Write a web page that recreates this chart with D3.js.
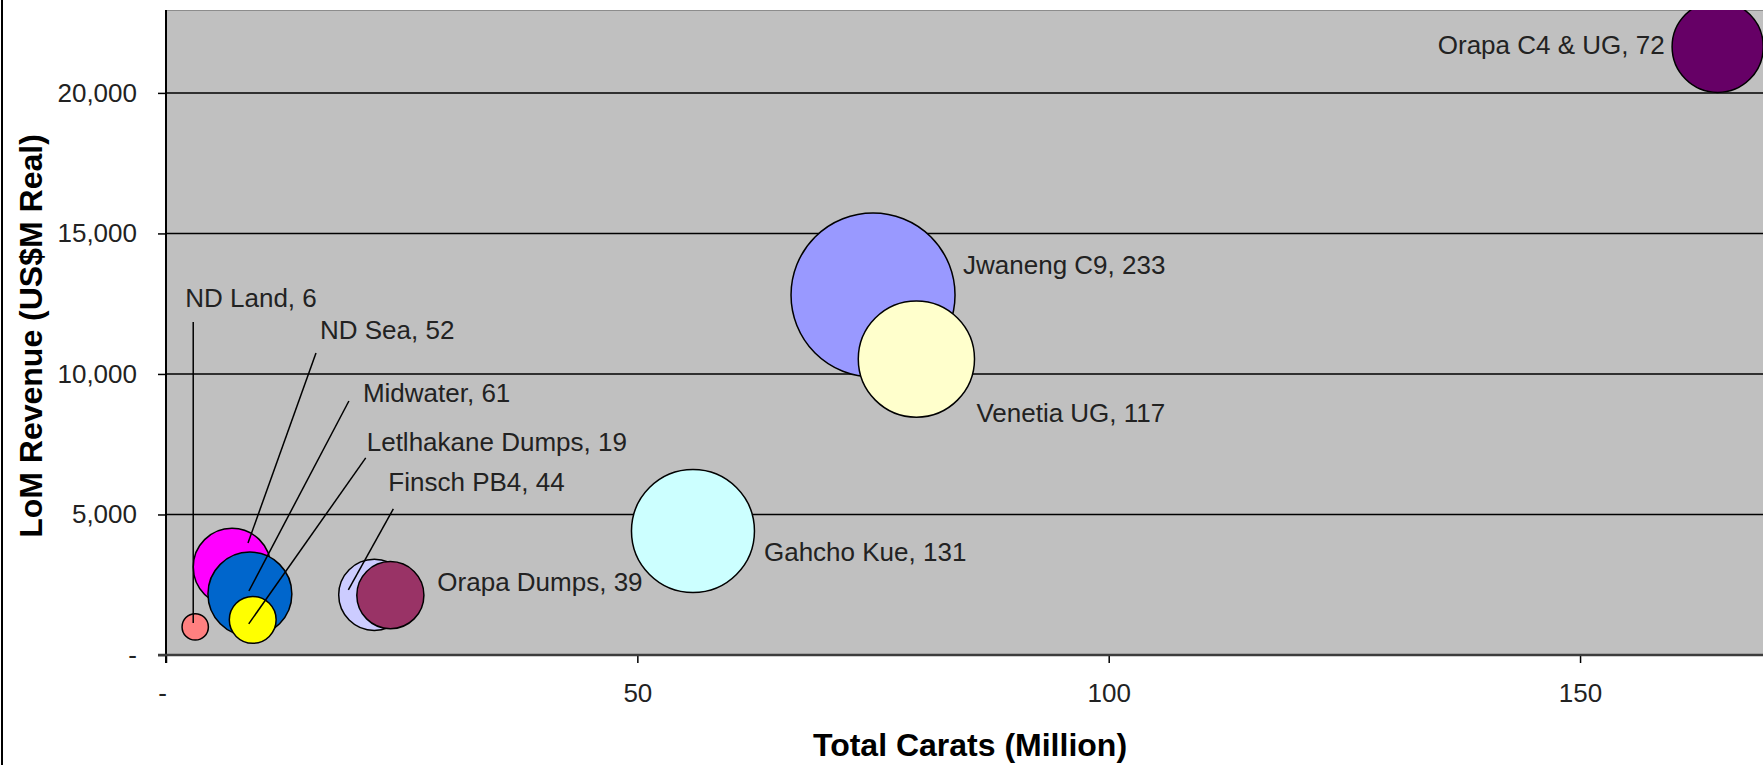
<!DOCTYPE html>
<html>
<head>
<meta charset="utf-8">
<script src="https://cdn.jsdelivr.net/npm/d3@7"></script>
<style>
  body { margin: 0; background: #fff; }
  svg { display: block; font-family: "Liberation Sans", Arial, sans-serif; }
</style>
</head>
<body>
<svg id="chart" width="1763" height="765"></svg>
<script>
////////////////////////////////////////////////////////////////
// Data

let mines   = ["ND Land", "ND Sea", "Midwater", "Letlhakane Dumps", "Finsch PB4",
               "Orapa Dumps", "Gahcho Kue", "Jwaneng C9", "Venetia UG", "Orapa C4 & UG"]
let carats  = [3.1, 7.0, 8.9, 9.2, 22.1, 23.8, 55.9, 75.0, 79.6, 164.6]
let revenue = [1000, 3130, 2170, 1250, 2140, 2130, 4410, 12810, 10530, 21640]
let sizes   = [6, 52, 61, 19, 44, 39, 131, 233, 117, 72]
let colors  = ["#FF8080", "#FF00FF", "#0066CC", "#FFFF00", "#CCCCFF",
               "#993366", "#CCFFFF", "#9999FF", "#FFFFCC", "#660066"]

let yTicks = [0, 5000, 10000, 15000, 20000]
let xTicks = [0, 50, 100, 150]

// label placement (px offset from bubble centre), leader line where Excel drew one
let labelLayout = [
  {dx: -10, dy: -329, anchor: "start", lead: [[8, 24], [-2, -4]]},
  {dx: 88,  dy: -237, anchor: "start", lead: [[-4, 23], [16, -24]]},
  {dx: 113, dy: -201, anchor: "start", lead: [[-14, 8], [-1, -3]]},
  {dx: 114, dy: -178, anchor: "start", lead: [[-1, 16], [-4, 4]]},
  {dx: 14,  dy: -113, anchor: "start", lead: [[5, 27], [-26, -5]]},
  {dx: 47,  dy: -13,  anchor: "start"},
  {dx: 71,  dy: 21,   anchor: "start"},
  {dx: 90,  dy: -30,  anchor: "start"},
  {dx: 60,  dy: 54,   anchor: "start"},
  {dx: -53, dy: -2,   anchor: "end"}
]

let data = mines.map(function(m, i) {
  return {name: m, x: carats[i], y: revenue[i], size: sizes[i], color: colors[i], lab: labelLayout[i]}
})

////////////////////////////////////////////////////////////////
// scales

let plotL = 166, plotT = 10, plotB = 655, plotR = 1763

let xScale = d3.scaleLinear()
  .domain([0, 170])
  .range([plotL, plotL + 170 * 9.427])

let yScale = d3.scaleLinear()
  .domain([0, 22950])
  .range([plotB, plotT])

let rScale = d3.scaleSqrt()
  .domain([0, 233])
  .range([0, 82])

let svg = d3.select("#chart")

// outer chart border (only the left edge is inside the crop)
svg.append("line")
  .attr("x1", 2).attr("x2", 2).attr("y1", 0).attr("y2", 765)
  .attr("stroke", "#000").attr("stroke-width", 2)

// plot area
svg.append("rect")
  .attr("x", plotL).attr("y", plotT)
  .attr("width", plotR - plotL + 10).attr("height", plotB - plotT)
  .attr("fill", "#C0C0C0")

svg.append("line")
  .attr("x1", plotL).attr("x2", plotR).attr("y1", plotT + 0.5).attr("y2", plotT + 0.5)
  .attr("stroke", "#8c8c8c").attr("stroke-width", 1)

svg.append("defs").append("clipPath").attr("id", "plotClip")
  .append("rect")
  .attr("x", plotL).attr("y", plotT)
  .attr("width", plotR - plotL + 10).attr("height", plotB - plotT)

// gridlines
svg.append("g")
  .selectAll("line")
  .data(yTicks.filter(d => d > 0))
  .enter()
  .append("line")
  .attr("x1", plotL).attr("x2", plotR)
  .attr("y1", d => yScale(d)).attr("y2", d => yScale(d))
  .attr("stroke", "#000").attr("stroke-width", 1.5)

////////////////////////////////////////////////////////////////
// axes

let yAxis = svg.append("g")
  .attr("transform", `translate(${plotL},0)`)
  .call(d3.axisLeft(yScale)
    .tickValues(yTicks)
    .tickSize(8)
    .tickPadding(21)
    .tickFormat(d => d === 0 ? "-" : d3.format(",")(d)))

let xAxis = svg.append("g")
  .attr("transform", `translate(0,${plotB})`)
  .call(d3.axisBottom(xScale)
    .tickValues(xTicks)
    .tickSize(8)
    .tickPadding(21)
    .tickFormat(d => d === 0 ? "-" : d))

for (let ax of [yAxis, xAxis]) {
  ax.select(".domain").remove()
  ax.selectAll(".tick line").attr("stroke", "#000").attr("stroke-width", 1.5)
  ax.selectAll(".tick text")
    .attr("fill", "#222")
    .style("font-size", "26px")
    .style("font-family", "'Liberation Sans', Arial, sans-serif")
}
xAxis.selectAll(".tick text").filter(d => d === 0).attr("dx", -4)

// axis lines
svg.append("line")
  .attr("x1", plotL).attr("x2", plotL).attr("y1", plotT).attr("y2", plotB + 8)
  .attr("stroke", "#000").attr("stroke-width", 2)

svg.append("line")
  .attr("x1", plotL - 8).attr("x2", plotR).attr("y1", plotB).attr("y2", plotB)
  .attr("stroke", "#3c3c3c").attr("stroke-width", 2.5)

// axis titles
svg.append("text")
  .attr("transform", "rotate(-90)")
  .attr("x", -336).attr("y", 42)
  .attr("text-anchor", "middle")
  .style("font-size", "32px").style("font-weight", "bold")
  .text("LoM Revenue (US$M Real)")

svg.append("text")
  .attr("x", 970).attr("y", 756)
  .attr("text-anchor", "middle")
  .style("font-size", "32px").style("font-weight", "bold")
  .text("Total Carats (Million)")

////////////////////////////////////////////////////////////////
// bubbles, leader lines and labels

let plot = svg.append("g").attr("clip-path", "url(#plotClip)")

plot.selectAll("circle")
  .data(data)
  .enter()
  .append("circle")
  .attr("cx", d => xScale(d.x))
  .attr("cy", d => yScale(d.y))
  .attr("r", d => rScale(d.size))
  .attr("fill", d => d.color)
  .attr("stroke", "#000")
  .attr("stroke-width", 1.5)

plot.selectAll("line.lead")
  .data(data.filter(d => d.lab.lead))
  .enter()
  .append("line")
  .attr("class", "lead")
  .attr("x1", d => xScale(d.x) + d.lab.dx + d.lab.lead[0][0])
  .attr("y1", d => yScale(d.y) + d.lab.dy + d.lab.lead[0][1])
  .attr("x2", d => xScale(d.x) + d.lab.lead[1][0])
  .attr("y2", d => yScale(d.y) + d.lab.lead[1][1])
  .attr("stroke", "#000")
  .attr("stroke-width", 1.5)

plot.selectAll("text")
  .data(data)
  .enter()
  .append("text")
  .attr("x", d => xScale(d.x) + d.lab.dx)
  .attr("y", d => yScale(d.y) + d.lab.dy)
  .attr("dy", "0.35em")
  .attr("text-anchor", d => d.lab.anchor)
  .attr("fill", "#222")
  .style("font-size", "26px")
  .text(d => d.name + ", " + d.size)
</script>
</body>
</html>
